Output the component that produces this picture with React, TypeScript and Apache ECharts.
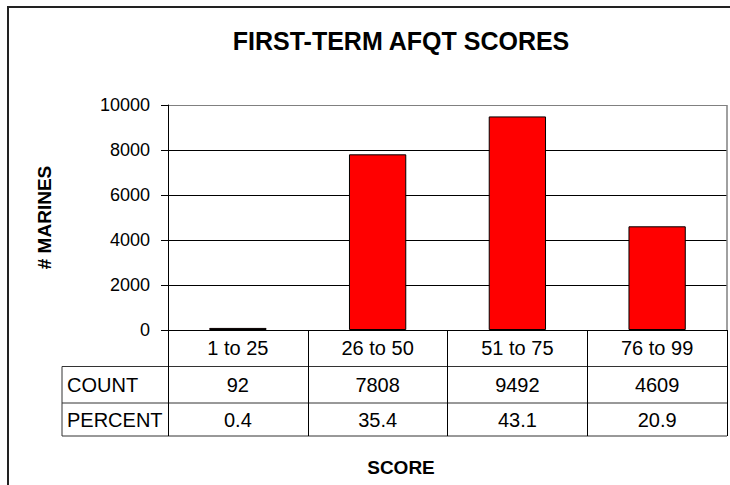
import React, { useEffect, useRef } from "react";
import * as echarts from "echarts";

const categories = ["1 to 25", "26 to 50", "51 to 75", "76 to 99"];
const counts = [92, 7808, 9492, 4609];
const percents = ["0.4", "35.4", "43.1", "20.9"];
const yTickValues = [0, 2000, 4000, 6000, 8000, 10000];
const rowLabels = ["COUNT", "PERCENT"];
const titleText = "FIRST-TERM AFQT SCORES";
const yAxisTitle = "# MARINES";
const xAxisTitle = "SCORE";

export default function App() {
  const ref = useRef<HTMLDivElement>(null);

  useEffect(() => {
    document.body.style.margin = "0";
    const chart = echarts.init(ref.current!, null, { renderer: "svg" });
    const font = "'Liberation Sans', Arial, sans-serif";
    const yMin = yTickValues[0];
    const yMax = yTickValues[yTickValues.length - 1];
    const yInterval = yTickValues[1] - yTickValues[0];

    chart.setOption({
      animation: false,
      grid: { left: 168, right: 3, top: 105, bottom: 155, containLabel: false },
      xAxis: {
        type: "category",
        data: categories,
        axisLine: { show: true, lineStyle: { color: "#000", width: 1 } },
        axisTick: { show: true, length: 106, inside: false, alignWithLabel: false, lineStyle: { color: "#000", width: 1 } },
        axisLabel: { show: true, margin: 18, verticalAlign: "middle", color: "#000", fontFamily: font, fontSize: 20 },
        splitLine: { show: false },
      },
      yAxis: {
        type: "value",
        min: yMin,
        max: yMax,
        interval: yInterval,
        name: yAxisTitle,
        nameLocation: "middle",
        nameRotate: 90,
        nameGap: 114,
        nameTextStyle: { color: "#000", fontFamily: font, fontSize: 19, fontWeight: "bold" },
        axisLine: { show: true, lineStyle: { color: "#000", width: 1 } },
        axisTick: { show: true, length: 7, lineStyle: { color: "#000" } },
        axisLabel: { margin: 18, color: "#000", fontFamily: font, fontSize: 18, formatter: (v: number) => String(v) },
        splitLine: {
          show: true,
          lineStyle: { color: ["#000", "#000", "#000", "#000", "#000", "#808080"], width: 1 },
        },
      },
      series: [
        {
          type: "bar",
          data: counts,
          barWidth: "41%",
          itemStyle: { color: "#ff0000", borderColor: "#000", borderWidth: 1 },
        },
      ],
    });

    const xs = categories.map((c) => chart.convertToPixel({ xAxisIndex: 0 }, c) as number);
    const plotRight = 727;
    const plotBottom = 330;
    const rowH = [36.5, 36.5, 33];
    const tableLeft = 62;
    const y1 = plotBottom + rowH[0];
    const y2 = y1 + rowH[1];
    const y3 = y2 + rowH[2];
    const lineStyle = { stroke: "#333", lineWidth: 1 };

    const graphics: any[] = [
      {
        type: "rect",
        shape: { x: 8, y: 7, width: 900, height: 700 },
        style: { fill: "none", stroke: "#222", lineWidth: 2 },
        silent: true,
      },
      {
        type: "text",
        x: 401,
        y: 41,
        style: { text: titleText, font: `bold 25px ${font}`, fill: "#000", textAlign: "center", textVerticalAlign: "middle" },
      },
      {
        type: "text",
        x: 401,
        y: 467,
        style: { text: xAxisTitle, font: `bold 19px ${font}`, fill: "#000", textAlign: "center", textVerticalAlign: "middle" },
      },
      { type: "line", shape: { x1: plotRight, y1: 105, x2: plotRight, y2: plotBottom }, style: { stroke: "#808080", lineWidth: 1.5 } },
      { type: "line", shape: { x1: tableLeft, y1: y1, x2: plotRight, y2: y1 }, style: lineStyle },
      { type: "line", shape: { x1: tableLeft, y1: y2, x2: plotRight, y2: y2 }, style: lineStyle },
      { type: "line", shape: { x1: tableLeft, y1: y3, x2: plotRight, y2: y3 }, style: lineStyle },
      { type: "line", shape: { x1: tableLeft, y1: y1, x2: tableLeft, y2: y3 }, style: lineStyle },
    ];

    const rows = [counts.map(String), percents];
    const rowCenters = [(y1 + y2) / 2, (y2 + y3) / 2];
    rows.forEach((vals, r) => {
      graphics.push({
        type: "text",
        x: 67,
        y: rowCenters[r],
        style: { text: rowLabels[r], font: `20px ${font}`, fill: "#000", textAlign: "left", textVerticalAlign: "middle" },
      });
      vals.forEach((v, i) => {
        graphics.push({
          type: "text",
          x: xs[i],
          y: rowCenters[r],
          style: { text: v, font: `20px ${font}`, fill: "#000", textAlign: "center", textVerticalAlign: "middle" },
        });
      });
    });

    chart.setOption({ graphic: graphics });

    return () => chart.dispose();
  }, []);

  return <div ref={ref} style={{ width: 730, height: 485 }} />;
}
